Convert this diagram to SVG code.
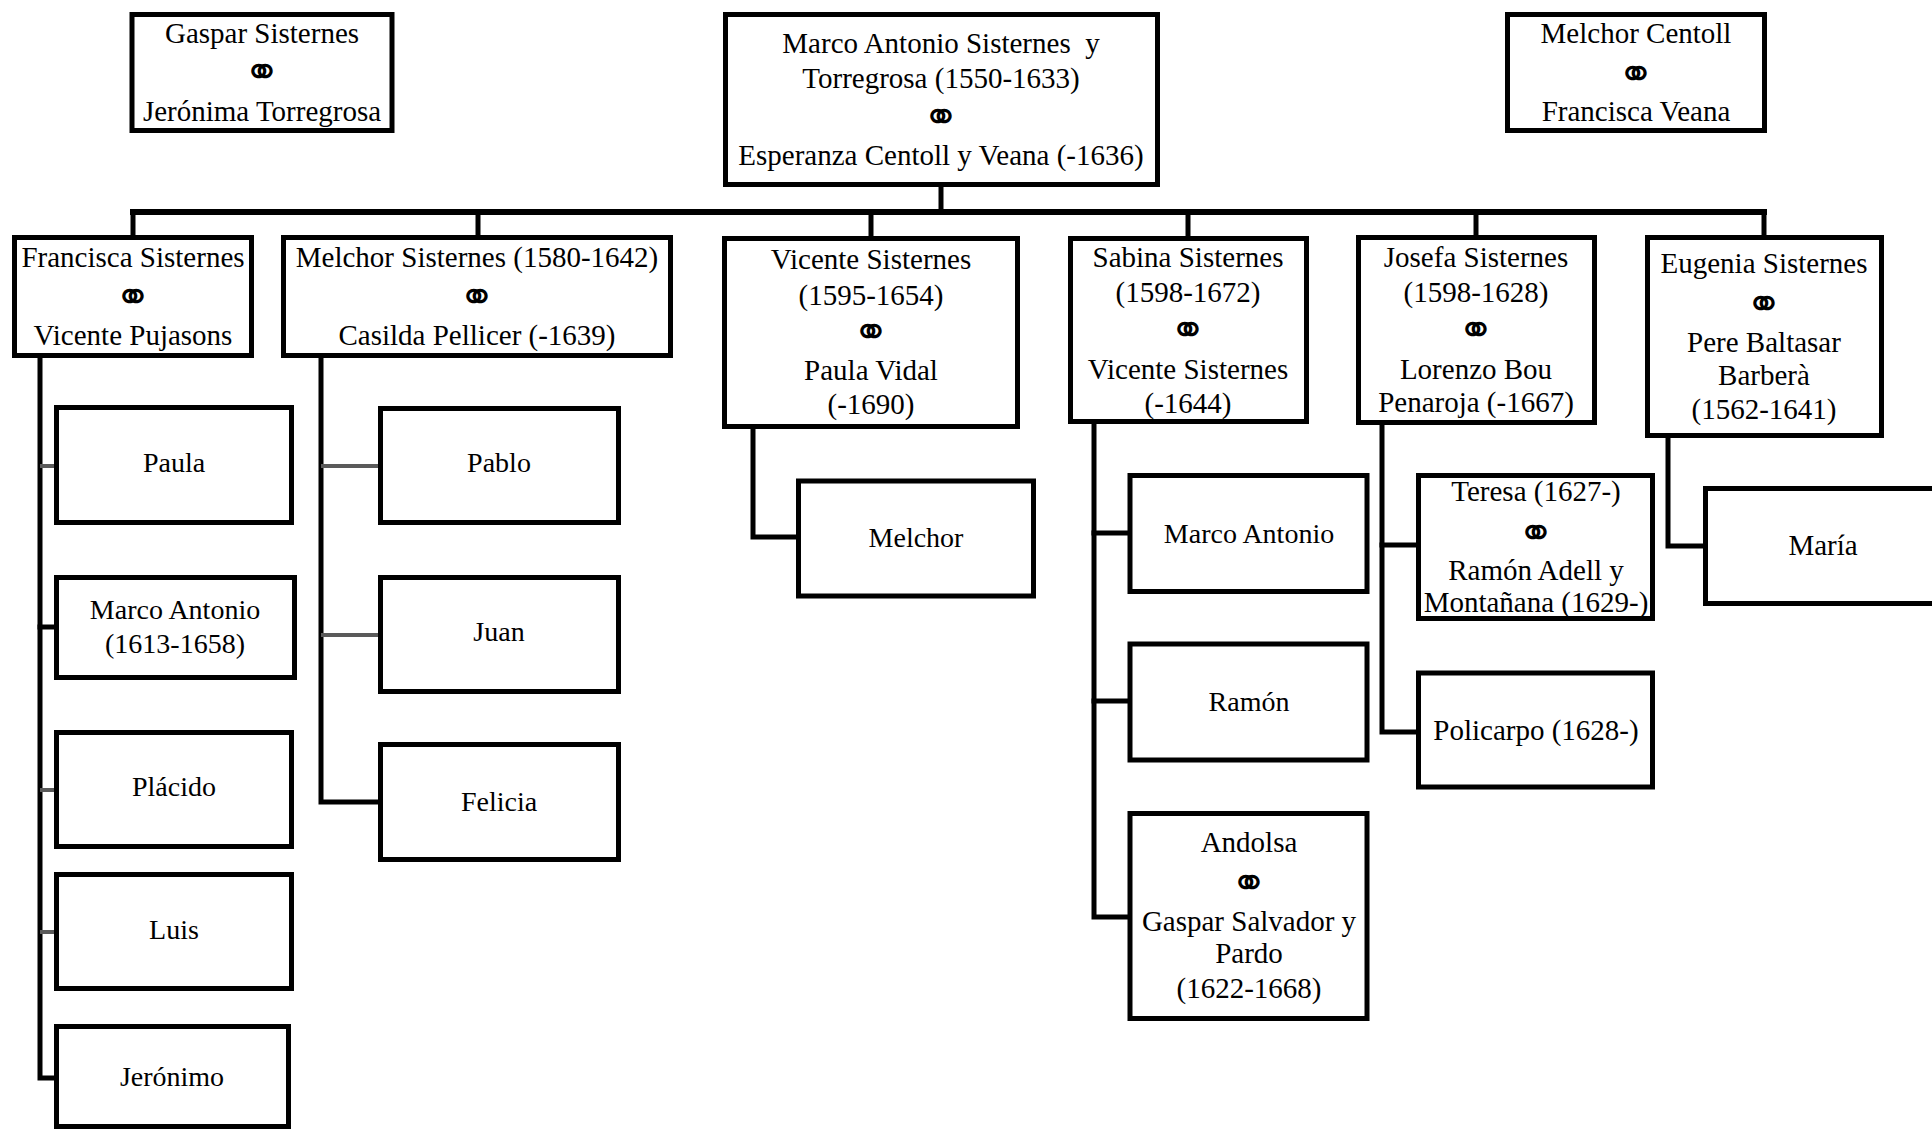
<svg xmlns="http://www.w3.org/2000/svg" width="1932" height="1129" viewBox="0 0 1932 1129">
<style>
.box{fill:#fff;stroke:#000;stroke-width:5}
.ln{fill:none;stroke:#000;stroke-width:5;stroke-linecap:square}
.bus{fill:none;stroke:#000;stroke-width:6;stroke-linecap:square}
.g{fill:none;stroke:#5a5a5a;stroke-width:4}
text{font-family:"Liberation Serif","Times New Roman",serif;font-size:29px;fill:#000;text-anchor:middle}
.c{font-size:28px}
.m{font-family:"DejaVu Sans",sans-serif;font-size:44px;font-weight:bold}
</style>
<rect width="1932" height="1129" fill="#fff"/>
<g id="connectors">
<line class="ln" x1="941" y1="187" x2="941" y2="212"/>
<line class="bus" x1="133" y1="212" x2="1764" y2="212"/>
<line class="ln" x1="133" y1="212" x2="133" y2="236"/>
<line class="ln" x1="478" y1="212" x2="478" y2="236"/>
<line class="ln" x1="871" y1="212" x2="871" y2="237"/>
<line class="ln" x1="1188" y1="212" x2="1188" y2="237"/>
<line class="ln" x1="1476" y1="212" x2="1476" y2="236"/>
<line class="ln" x1="1764" y1="212" x2="1764" y2="236"/>
<polyline class="ln" points="40,358 40,1078 54,1078"/>
<line class="g" x1="40" y1="466" x2="56" y2="466"/>
<line class="ln" x1="40" y1="627" x2="54" y2="627"/>
<line class="g" x1="40" y1="790" x2="56" y2="790"/>
<line class="g" x1="40" y1="932" x2="56" y2="932"/>
<polyline class="ln" points="321,358 321,802 378,802"/>
<line class="g" x1="321" y1="466" x2="379" y2="466"/>
<line class="g" x1="321" y1="635" x2="379" y2="635"/>
<polyline class="ln" points="753,429 753,537 796,537"/>
<polyline class="ln" points="1094,424 1094,917 1128,917"/>
<line class="ln" x1="1094" y1="533" x2="1128" y2="533"/>
<line class="ln" x1="1094" y1="701" x2="1128" y2="701"/>
<polyline class="ln" points="1382,425 1382,732 1416,732"/>
<line class="ln" x1="1382" y1="545" x2="1416" y2="545"/>
<polyline class="ln" points="1668,438 1668,546 1703,546"/>
</g>
<g id="n-gaspar">
<rect class="box" x="132" y="14.5" width="260" height="116"/>
<text x="262" y="43">Gaspar Sisternes</text>
<text class="m" x="262" y="87">⚭</text>
<text x="262" y="121">Jerónima Torregrosa</text>
</g>
<g id="n-marco">
<rect class="box" x="725.5" y="14.5" width="432" height="170"/>
<text x="941" y="53" xml:space="preserve">Marco Antonio Sisternes  y</text>
<text x="941" y="88">Torregrosa (1550-1633)</text>
<text class="m" x="941" y="132">⚭</text>
<text x="941" y="165">Esperanza Centoll y Veana (-1636)</text>
</g>
<g id="n-centoll">
<rect class="box" x="1507.5" y="14.5" width="257" height="116"/>
<text x="1636" y="43">Melchor Centoll</text>
<text class="m" x="1636" y="89">⚭</text>
<text x="1636" y="121">Francisca Veana</text>
</g>
<g id="n-francisca">
<rect class="box" x="14.5" y="237.5" width="237" height="118"/>
<text x="133" y="267">Francisca Sisternes</text>
<text class="m" x="133" y="312">⚭</text>
<text x="133" y="345">Vicente Pujasons</text>
</g>
<g id="n-melchor">
<rect class="box" x="283.5" y="237.5" width="387" height="118"/>
<text x="477" y="267">Melchor Sisternes (1580-1642)</text>
<text class="m" x="477" y="312">⚭</text>
<text x="477" y="345">Casilda Pellicer (-1639)</text>
</g>
<g id="n-vicente">
<rect class="box" x="724.5" y="238.5" width="293" height="188"/>
<text x="871" y="269">Vicente Sisternes</text>
<text x="871" y="305">(1595-1654)</text>
<text class="m" x="871" y="347">⚭</text>
<text x="871" y="380">Paula Vidal</text>
<text x="871" y="414">(-1690)</text>
</g>
<g id="n-sabina">
<rect class="box" x="1070.5" y="238.5" width="236" height="183"/>
<text x="1188" y="267">Sabina Sisternes</text>
<text x="1188" y="302">(1598-1672)</text>
<text class="m" x="1188" y="345">⚭</text>
<text x="1188" y="379">Vicente Sisternes</text>
<text x="1188" y="413">(-1644)</text>
</g>
<g id="n-josefa">
<rect class="box" x="1358.5" y="237.5" width="236" height="185"/>
<text x="1476" y="267">Josefa Sisternes</text>
<text x="1476" y="302">(1598-1628)</text>
<text class="m" x="1476" y="345">⚭</text>
<text x="1476" y="379">Lorenzo Bou</text>
<text x="1476" y="412">Penaroja (-1667)</text>
</g>
<g id="n-eugenia">
<rect class="box" x="1647.5" y="237.5" width="234" height="198"/>
<text x="1764" y="273">Eugenia Sisternes</text>
<text class="m" x="1764" y="319">⚭</text>
<text x="1764" y="352">Pere Baltasar</text>
<text x="1764" y="385">Barberà</text>
<text x="1764" y="419">(1562-1641)</text>
</g>
<g id="n-paula">
<rect class="box" x="56.5" y="407.5" width="235" height="115"/>
<text class="c" x="174" y="472">Paula</text>
</g>
<g id="n-marco2">
<rect class="box" x="56.5" y="577.5" width="238" height="100"/>
<text class="c" x="175" y="619">Marco Antonio</text>
<text class="c" x="175" y="653">(1613-1658)</text>
</g>
<g id="n-placido">
<rect class="box" x="56.5" y="732.5" width="235" height="114"/>
<text class="c" x="174" y="796">Plácido</text>
</g>
<g id="n-luis">
<rect class="box" x="56.5" y="874.5" width="235" height="114"/>
<text class="c" x="174" y="939">Luis</text>
</g>
<g id="n-jeronimo">
<rect class="box" x="56.5" y="1026.5" width="232" height="100"/>
<text class="c" x="172" y="1086">Jerónimo</text>
</g>
<g id="n-pablo">
<rect class="box" x="380.5" y="408.5" width="238" height="114"/>
<text class="c" x="499" y="472">Pablo</text>
</g>
<g id="n-juan">
<rect class="box" x="380.5" y="577.5" width="238" height="114"/>
<text class="c" x="499" y="641">Juan</text>
</g>
<g id="n-felicia">
<rect class="box" x="380.5" y="744.5" width="238" height="115"/>
<text class="c" x="499" y="811">Felicia</text>
</g>
<g id="n-melchor2">
<rect class="box" x="798.5" y="481" width="235" height="115"/>
<text class="c" x="916" y="547">Melchor</text>
</g>
<g id="n-marco3">
<rect class="box" x="1130" y="475.5" width="237" height="116"/>
<text class="c" x="1249" y="543">Marco Antonio</text>
</g>
<g id="n-ramon">
<rect class="box" x="1130" y="644" width="237" height="116"/>
<text class="c" x="1249" y="711">Ramón</text>
</g>
<g id="n-andolsa">
<rect class="box" x="1130" y="813.5" width="237" height="205"/>
<text x="1249" y="852">Andolsa</text>
<text class="m" x="1249" y="898">⚭</text>
<text x="1249" y="931">Gaspar Salvador y</text>
<text x="1249" y="963">Pardo</text>
<text x="1249" y="998">(1622-1668)</text>
</g>
<g id="n-teresa">
<rect class="box" x="1418.5" y="475.5" width="234" height="143"/>
<text x="1536" y="501">Teresa (1627-)</text>
<text class="m" x="1536" y="548">⚭</text>
<text x="1536" y="580">Ramón Adell y</text>
<text x="1536" y="612">Montañana (1629-)</text>
</g>
<g id="n-policarpo">
<rect class="box" x="1418.5" y="673" width="234" height="114"/>
<text x="1536" y="740">Policarpo (1628-)</text>
</g>
<g id="n-maria">
<rect class="box" x="1705.5" y="488.5" width="240" height="115"/>
<text x="1823" y="555">María</text>
</g>
</svg>
